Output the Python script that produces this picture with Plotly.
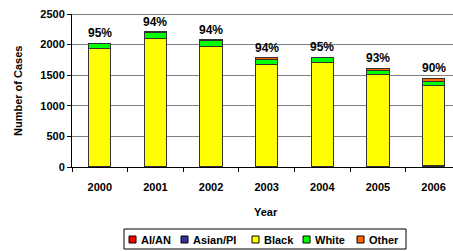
import plotly.graph_objects as go

years = ["2000", "2001", "2002", "2003", "2004", "2005", "2006"]
aian = [2, 2, 3, 3, 3, 5, 6]
asian_pi = [5, 6, 8, 8, 7, 10, 22]
black = [1925, 2090, 1965, 1672, 1705, 1490, 1297]
white = [88, 105, 95, 76, 70, 80, 74]
other = [3, 5, 10, 30, 12, 32, 55]
pct_labels = ["95%", "94%", "94%", "94%", "95%", "93%", "90%"]

series_names = ["AI/AN", "Asian/PI", "Black", "White", "Other"]
series_vals = [aian, asian_pi, black, white, other]
series_colors = ["#FF0000", "#333399", "#FFFF00", "#00FF00", "#FF6600"]

FONT = "Liberation Sans, Arial"
W, H = 453, 251
L, T, R, B = 72, 14, W, H - 84
pw, ph = R - L, B - T

def qx(x):
    return (x - L) / pw

def qy(y):
    return (B - y) / ph

fig = go.Figure()
for name, vals, col in zip(series_names, series_vals, series_colors):
    fig.add_trace(go.Bar(
        x=years, y=vals, name=name, width=0.4, showlegend=False,
        marker=dict(color=col, line=dict(color="#333333", width=1)),
    ))

totals = [sum(v) for v in zip(*series_vals)]
for i, (tot, lab) in enumerate(zip(totals, pct_labels)):
    fig.add_annotation(x=i, y=tot, xref="x", yref="y", text="<b>%s</b>" % lab,
                       showarrow=False, yanchor="bottom", yshift=1,
                       font=dict(family=FONT, size=12, color="#000000"))

fig.update_layout(
    width=W, height=H,
    barmode="stack",
    paper_bgcolor="white", plot_bgcolor="white",
    margin=dict(l=L, r=W - R, t=T, b=H - B, autoexpand=False),
    font=dict(family=FONT, size=11, color="#000000"),
    showlegend=False,
    xaxis=dict(
        type="category",
        range=[-0.5, 6.35],
        automargin=False,
        showline=True, linecolor="#000000", linewidth=1,
        ticks="outside", tickson="boundaries", ticklen=4, tickcolor="#000000",
        tickfont=dict(size=11, family=FONT),
        tickprefix="<b>", ticksuffix="</b>",
        ticklabelstandoff=10,
    ),
    yaxis=dict(
        range=[0, 2500], dtick=500,
        automargin=False,
        showline=True, linecolor="#000000", linewidth=1,
        ticks="outside", ticklen=4, tickcolor="#000000",
        gridcolor="#808080", gridwidth=1,
        tickfont=dict(size=11, family=FONT),
        tickprefix="<b>", ticksuffix="</b>",
    ),
)

fig.add_shape(type="line", xref="paper", yref="y", x0=0, x1=1, y0=2500, y1=2500,
              line=dict(color="#000000", width=1))

# compact boxed legend at the bottom
leg_items_x = [129, 181, 252, 303, 357]
fig.add_shape(type="rect", xref="paper", yref="paper",
              x0=qx(124), x1=qx(406), y0=qy(249), y1=qy(229),
              line=dict(color="#000000", width=1), fillcolor="white")
for name, col, sx in zip(series_names, series_colors, leg_items_x):
    fig.add_shape(type="rect", xref="paper", yref="paper",
                  x0=qx(sx), x1=qx(sx + 7), y0=qy(243), y1=qy(236),
                  line=dict(color="#000000", width=1), fillcolor=col)
    fig.add_annotation(xref="paper", yref="paper", x=qx(sx + 10), y=qy(239.5),
                       text="<b>%s</b>" % name, showarrow=False,
                       xanchor="left", yanchor="middle",
                       font=dict(family=FONT, size=11, color="#000000"))

# axis titles
fig.add_annotation(xref="paper", yref="paper", x=qx(266), y=qy(212),
                   text="<b>Year</b>", showarrow=False, xanchor="center", yanchor="middle",
                   font=dict(family=FONT, size=11, color="#000000"))
fig.add_annotation(xref="paper", yref="paper", x=qx(18), y=qy(91),
                   text="<b>Number of Cases</b>", showarrow=False, textangle=-90,
                   xanchor="center", yanchor="middle",
                   font=dict(family=FONT, size=11, color="#000000"))

fig.write_html("out.html",
               config={"displayModeBar": False},
               post_script="document.body.style.margin='0';document.body.style.padding='0';")
